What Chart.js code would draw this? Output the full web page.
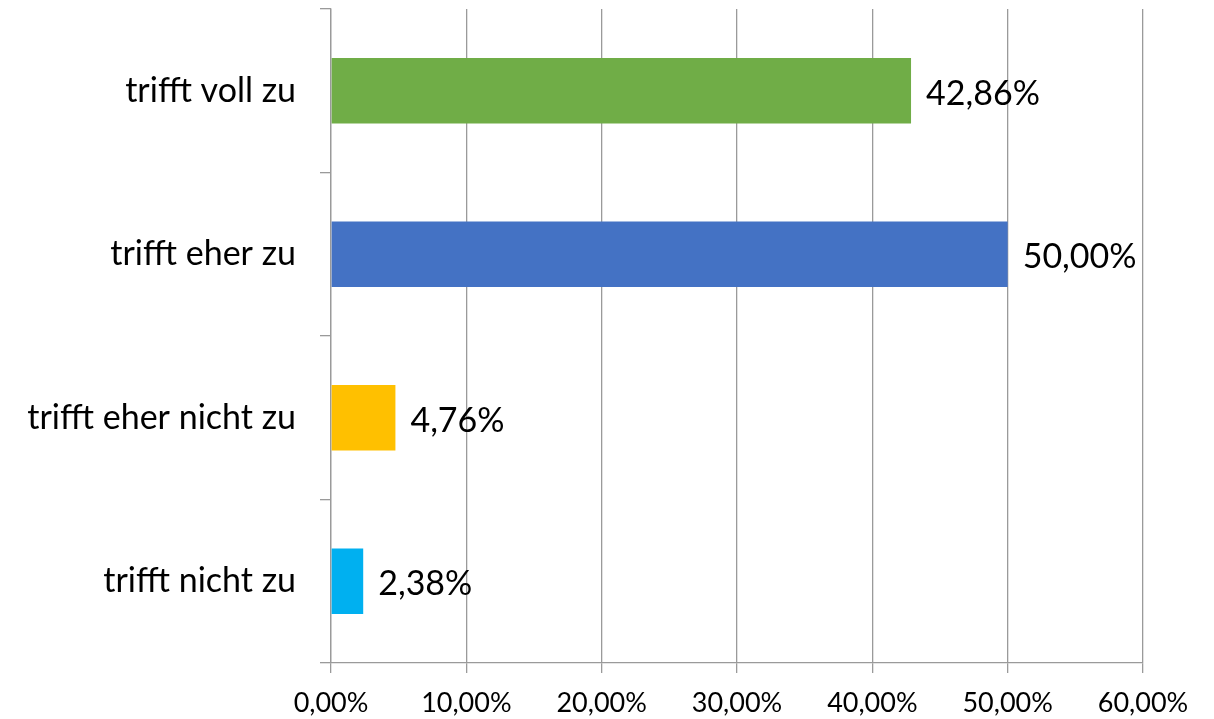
<!DOCTYPE html>
<html><head><meta charset="utf-8">
<script src="https://cdn.jsdelivr.net/npm/chart.js@4/dist/chart.umd.min.js"></script>
<style>html,body{margin:0;padding:0;background:#fff}#wrap{width:1214px;height:719px}</style>
</head><body><div id="wrap"><canvas id="c" width="1214" height="719"></canvas></div>
<script>
const categories = ["trifft voll zu", "trifft eher zu", "trifft eher nicht zu", "trifft nicht zu"];
const values = [42.86, 50.00, 4.76, 2.38];
const barColors = ["#70AD47", "#4472C4", "#FFC000", "#00B0F0"];
const xTicks = [0, 10, 20, 30, 40, 50, 60];

const fmt = v => v.toFixed(2).replace('.', ',') + '%';
const FONT = "Lato, 'Open Sans', sans-serif";

const labelPlugin = {
  id: 'barLabels',
  afterDatasetsDraw(chart) {
    const ctx = chart.ctx;
    const meta = chart.getDatasetMeta(0);
    ctx.save();
    ctx.font = "34px " + FONT;
    ctx.fillStyle = "#000";
    ctx.textAlign = "left";
    ctx.textBaseline = "middle";
    meta.data.forEach((bar, i) => {
      ctx.fillText(fmt(values[i]), bar.x + 15, bar.y + 3);
    });
    ctx.restore();
  }
};

new Chart(document.getElementById('c'), {
  type: 'bar',
  data: {
    labels: categories,
    datasets: [{
      data: values,
      backgroundColor: barColors,
      barPercentage: 0.4,
      categoryPercentage: 1.0
    }]
  },
  options: {
    indexAxis: 'y',
    responsive: false,
    animation: false,
    layout: { padding: { top: 9, right: 71, left: 0, bottom: 0 } },
    plugins: { legend: { display: false }, tooltip: { enabled: false } },
    scales: {
      x: {
        min: 0, max: 60,
        afterBuildTicks: s => { s.ticks = xTicks.map(v => ({ value: v })); },
        afterFit: s => { s.height = 56; s.paddingLeft = 0; s.paddingRight = 0; },
        grid: { color: "#9a9a9a", lineWidth: 1.3, tickLength: 10, drawTicks: true },
        border: { color: "#9a9a9a", width: 1.3 },
        ticks: { color: "#000", font: { family: FONT, size: 27 }, padding: 14, callback: v => fmt(v), maxRotation: 0 }
      },
      y: {
        afterFit: s => { s.width = 331; s.paddingTop = 0; s.paddingBottom = 0; },
        grid: { drawOnChartArea: false, offset: true, color: "#9a9a9a", lineWidth: 1.3, tickLength: 11 },
        border: { color: "#9a9a9a", width: 1.3 },
        ticks: { color: "#000", font: { family: FONT, size: 34 }, padding: 24 }
      }
    }
  },
  plugins: [labelPlugin]
});
</script>
</body></html>
